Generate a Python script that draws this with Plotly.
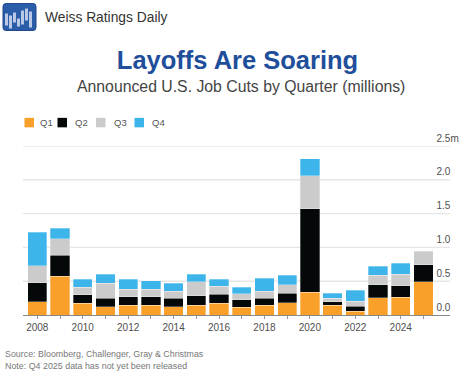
import plotly.graph_objects as go

W, H = 476, 372
years = list(range(2008, 2026))
q1 = [0.197, 0.576, 0.172, 0.123, 0.143, 0.143, 0.123, 0.143, 0.172, 0.113, 0.143, 0.182, 0.335, 0.143, 0.054, 0.256, 0.260, 0.492]
q2 = [0.280, 0.310, 0.128, 0.123, 0.127, 0.127, 0.123, 0.142, 0.138, 0.113, 0.103, 0.143, 1.240, 0.054, 0.074, 0.192, 0.173, 0.251]
q3 = [0.251, 0.244, 0.108, 0.222, 0.109, 0.109, 0.108, 0.207, 0.118, 0.089, 0.103, 0.123, 0.482, 0.054, 0.079, 0.138, 0.167, 0.197]
q4 = [0.497, 0.154, 0.119, 0.132, 0.148, 0.128, 0.118, 0.108, 0.099, 0.093, 0.197, 0.142, 0.256, 0.069, 0.157, 0.137, 0.163, None]
series = {"Q1": (q1, "#F9A02B"), "Q2": (q2, "#050808"), "Q3": (q3, "#CBCBCB"), "Q4": (q4, "#3DB5EA")}
y_ticks = [0, 0.5, 1, 1.5, 2, 2.5]
y_labels = ["0.0", "0.5", "1.0", "1.5", "2.0", "2.5m"]
x_labels = [str(y) if y % 2 == 0 else "" for y in years]
legend_swatch_x = [24.5, 57.5, 96, 134.5]
legend_text_x = [38, 73, 112, 150]

L, R, T, B = 23, 450, 145.7, 315
def px(x): return (x - L) / (R - L)
def py(y): return (B - y) / (B - T)

fig = go.Figure()
for name, (vals, col) in series.items():
    fig.add_trace(go.Bar(x=years, y=vals, name=name, width=0.85, showlegend=False,
                         marker=dict(color=col, line=dict(color="rgba(255,255,255,0.6)", width=0.5))))

shapes = [dict(type="path", xref="paper", yref="paper",
               path=f"M {px(6)},{py(3)} L {px(33)},{py(3)} Q {px(36)},{py(3)} {px(36)},{py(6)} L {px(36)},{py(27)} "
                    f"Q {px(36)},{py(30)} {px(33)},{py(30)} L {px(6)},{py(30)} Q {px(3)},{py(30)} {px(3)},{py(27)} "
                    f"L {px(3)},{py(6)} Q {px(3)},{py(3)} {px(6)},{py(3)} Z",
               fillcolor="#2A5CA8", line=dict(color="#1F4A8E", width=1))]
for x0, x1, y0, y1 in [(5, 8, 13, 25), (9, 12, 15, 28), (13, 16, 12, 22), (17, 20, 18, 26),
                       (21, 24, 10, 24), (25, 28, 8, 20), (29, 32, 11, 27)]:
    shapes.append(dict(type="rect", xref="paper", yref="paper", x0=px(x0), x1=px(x1), y0=py(y1), y1=py(y0),
                       fillcolor="#B9C9E6", line=dict(width=0)))
for t in y_ticks[1:]:
    shapes.append(dict(type="line", xref="paper", yref="y", x0=0, x1=1, y0=t, y1=t, layer="below",
                       line=dict(color="#E6E6E6", width=1.4)))

def note(text, x, y, size, color, anchor="left"):
    return dict(text=text, x=px(x), y=py(y), xref="paper", yref="paper", xanchor=anchor, yanchor="middle",
                showarrow=False, font=dict(size=size, color=color))

ann = [
    note("Weiss Ratings Daily", 43, 17, 13.8, "#333333"),
    note("Announced U.S. Job Cuts by Quarter (millions)", 241, 86, 15.8, "#444444", "center"),
    note("Source: Bloomberg, Challenger, Gray &amp; Christmas", 3, 354.5, 8.9, "#777777"),
    note("Note: Q4 2025 data has not yet been released", 3, 366.5, 8.9, "#777777"),
]
for (name, (_, col)), sx, tx in zip(series.items(), legend_swatch_x, legend_text_x):
    shapes.append(dict(type="rect", xref="paper", yref="paper", x0=px(sx), x1=px(sx + 9.5), y0=py(127), y1=py(117.5),
                       fillcolor=col, line=dict(width=0)))
    ann.append(note(name, tx, 122, 9.5, "#555555"))

fig.update_layout(
    width=W, height=H, autosize=False, barmode="stack", showlegend=False,
    paper_bgcolor="white", plot_bgcolor="white",
    font=dict(family="Liberation Sans, Arial, sans-serif", color="#555555"),
    margin=dict(l=L, r=W - R, t=T, b=H - B, pad=0, autoexpand=False),
    title=dict(text="<b>Layoffs Are Soaring</b>", x=237.5 / W, xref="container", xanchor="center", yref="container",
               y=1 - 60 / H, yanchor="middle", font=dict(size=25.5, color="#1F4E9A")),
    xaxis=dict(range=[2007.37, 2026.17], tickmode="array", tickvals=years, ticktext=x_labels, ticks="outside",
               ticklen=3, tickcolor="#999999", showgrid=False, showline=True, linecolor="#888888", linewidth=1,
               tickfont=dict(size=10, color="#4F4F4F"), zeroline=False, automargin=False),
    yaxis=dict(range=[0, 2.5], tickmode="array", tickvals=y_ticks, ticktext=y_labels, side="right", anchor="free",
               position=px(435.5), showgrid=False, zeroline=False, showline=False,
               ticks="", ticklabelshift=-8, tickfont=dict(size=10, color="#4F4F4F"), automargin=False),
    shapes=shapes, annotations=ann,
)
fig.write_html("out.html", config={"displayModeBar": False},
               post_script="document.body.style.margin='0';document.body.style.overflow='hidden';")
